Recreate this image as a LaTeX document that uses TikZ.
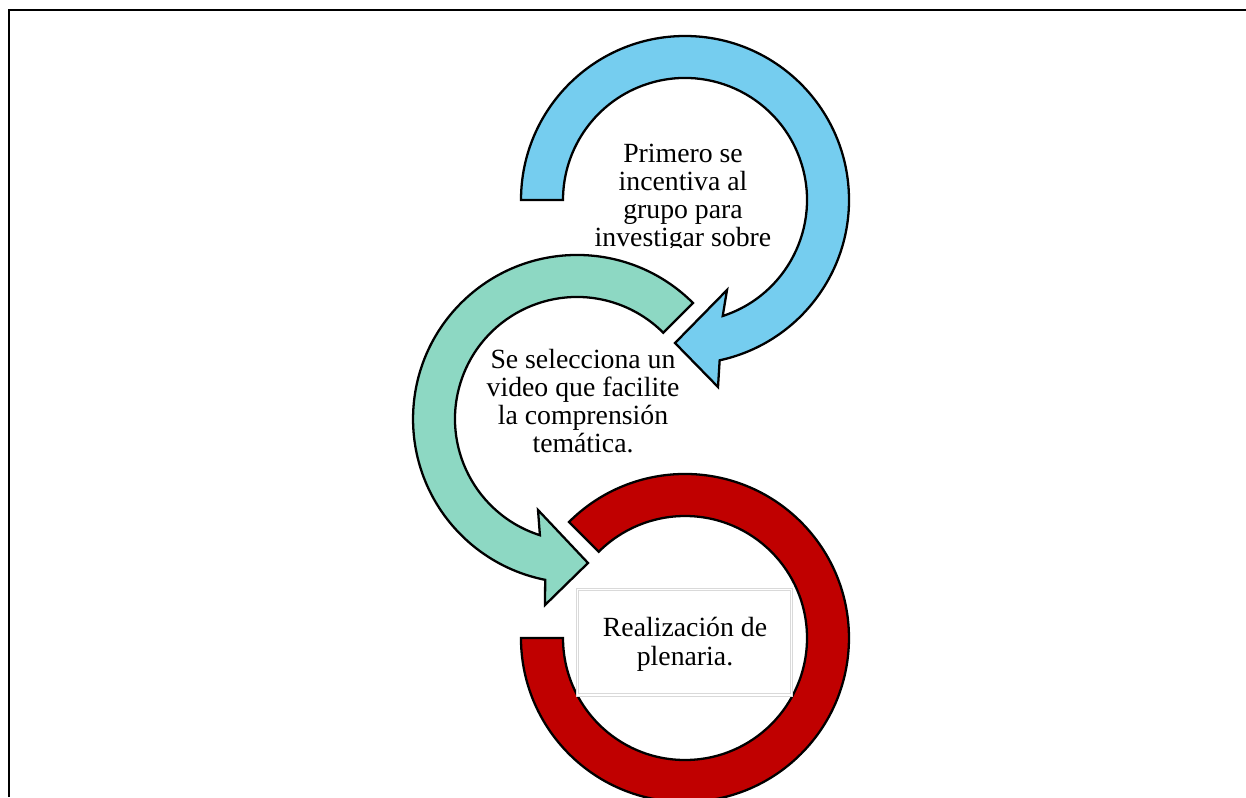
\documentclass[tikz,border=0pt]{standalone}
\usepackage{fontspec}
\setmainfont{Liberation Serif}
\definecolor{azulflecha}{RGB}{117,205,239}
\definecolor{verdeflecha}{RGB}{141,216,195}
\definecolor{rojoflecha}{RGB}{192,0,0}
\tikzset{
  flecha/.style={draw=black, line width=1.3pt},
  texto/.style={font=\fontsize{15.8}{16}\selectfont, align=center, inner sep=0pt}
}
\begin{document}
\begin{tikzpicture}[x=0.02cm,y=-0.02cm]

	\useasboundingbox (0,0) rectangle (1246,797);
	\fill [white] (0,0) rectangle (1246,797);

	% marco
	\draw [line width=1.2pt] (9,797) -- (9,10) -- (1246,10);

	% flecha azul
	\draw [flecha, fill=azulflecha] (521,200) arc [start angle=180, end angle=437.8, radius=164] -- (718,387) -- (675,343) -- (727,290) -- (722.7,316) arc [start angle=432, end angle=180, radius=122] -- cycle;

	% flecha verde
	\draw [flecha, fill=verdeflecha] (693,303) arc [start angle=-45, end angle=-258.8, radius=164] -- (545,605) -- (588,563) -- (538,510) -- (539.9,535.2) arc [start angle=-252.3, end angle=-45, radius=122] -- cycle;

	% anillo rojo
	\draw [flecha, fill=rojoflecha] (569,522) arc [start angle=225, end angle=540, radius=164] -- (563,638) arc [start angle=180, end angle=-135, radius=122] -- cycle;

	\begin{scope}
		\clip (560,100) rectangle (810,247.5);
		\node (primero) [texto] at (683,198.5) {Primero se\\incentiva al\\grupo para\\investigar sobre};
	\end{scope}

	\node (video) [texto] at (583,401) {Se selecciona un\\video que facilite\\la comprensión\\temática.};

	\draw [gray!30, line width=0.4pt, double=white, double distance=1pt] (577.5,589.5) rectangle (791.5,695);
	\node (plenaria) [texto] at (685,644.3) {Realización de\\plenaria.};

\end{tikzpicture}
\end{document}
